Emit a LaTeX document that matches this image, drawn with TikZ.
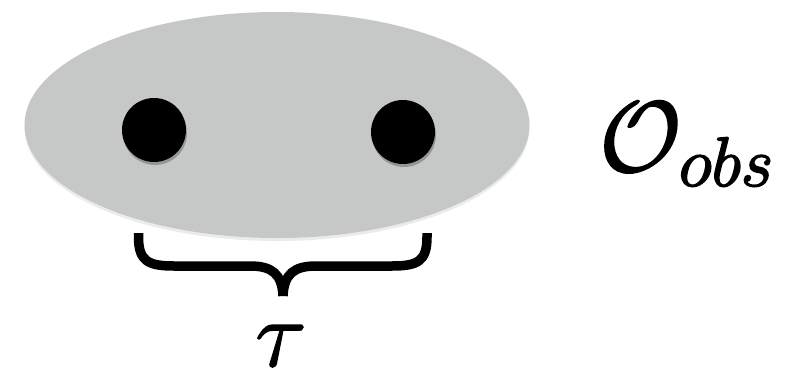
\RequirePackage{fix-cm}
\documentclass[tikz,border=0pt]{standalone}
\usetikzlibrary{shapes.geometric,shadows}
\definecolor{blobgray}{RGB}{198,199,199}
\newcommand{\heavytext}[1]{\special{pdf:literal direct 2 Tr 1.6 w}#1\special{pdf:literal direct 0 Tr 0.4 w}}
\tikzset{
  blob/.style={ellipse, fill=blobgray, inner sep=0pt,
    minimum width=505pt, minimum height=226pt,
    drop shadow={shadow xshift=0pt, shadow yshift=-3pt, opacity=0.08, fill=black}},
  dot/.style={circle, fill=black, inner sep=0pt, minimum size=64pt,
    drop shadow={shadow xshift=1pt, shadow yshift=-3pt, opacity=0.25, fill=black}},
  bracestroke/.style={line width=9.5pt, line cap=butt, line join=round},
  lbl/.style={inner sep=0pt}
}
\begin{document}
\begin{tikzpicture}[x=1pt,y=-1pt]
\useasboundingbox (0,0) rectangle (789,372);
\node[blob] (blob) at (277,125) {};
\node[dot] (d1) at (154,130) {};
\node[dot] (d2) at (403,132) {};
\coordinate (bl) at (138.5,233);
\coordinate (br) at (427,233);
\coordinate (tip) at (283,296);
\draw[bracestroke] (bl) -- ++(0,4) .. controls +(0,24) and +(-26,0) .. (174,266) -- (250,266)
  .. controls (272,266) and (282,274) .. (tip);
\draw[bracestroke] (br) -- ++(0,4) .. controls +(0,24) and +(26,0) .. (392,266) -- (316,266)
  .. controls (294,266) and (284,274) .. (tip);
\node[lbl, anchor=base] (tau) at (281,366) {\fontsize{95}{95}\selectfont\heavytext{$\tau$}};
\node[lbl, anchor=base west] (obs) at (599,171) {\fontsize{100}{100}\selectfont\heavytext{$\mathcal{O}_{obs}$}};
\end{tikzpicture}
\end{document}
